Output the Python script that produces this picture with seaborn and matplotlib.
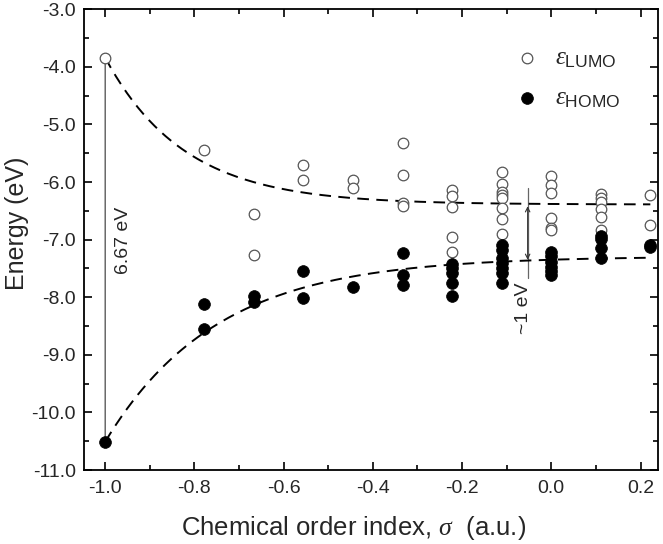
"""
Energia dos orbitais de fronteira vs. índice de ordem química
"""

import numpy as np
import pandas as pd
import matplotlib
matplotlib.use('Agg')
import matplotlib.pyplot as plt
from matplotlib.ticker import MultipleLocator, FormatStrFormatter
import seaborn as sns

# Dados
sigma = [-1.0, -0.778, -0.667, -0.556, -0.444, -0.333, -0.222, -0.111, 0.0, 0.111, 0.222]

lumo = [
    [-3.84],
    [-5.44],
    [-6.56, -7.27],
    [-5.71, -5.96],
    [-5.97, -6.10],
    [-5.33, -5.87, -6.37, -6.42],
    [-6.14, -6.24, -6.43, -6.96, -7.21],
    [-5.83, -6.03, -6.18, -6.23, -6.28, -6.45, -6.64, -6.90],
    [-5.90, -6.05, -6.19, -6.63, -6.79, -6.83],
    [-6.20, -6.27, -6.34, -6.47, -6.60, -6.84],
    [-6.23, -6.74],
]

homo = [
    [-10.51],
    [-8.11, -8.55],
    [-7.97, -8.09],
    [-7.55, -8.02],
    [-7.83],
    [-7.24, -7.61, -7.79],
    [-7.42, -7.50, -7.58, -7.75, -7.98],
    [-7.10, -7.18, -7.32, -7.41, -7.50, -7.58, -7.76],
    [-7.22, -7.29, -7.38, -7.47, -7.55, -7.62],
    [-6.94, -6.99, -7.14, -7.32],
    [-7.09, -7.13],
]

# parâmetros das curvas de ajuste (exponencial): y = a + b*exp(-(x+1)/t)
fit_lumo = (-6.39, 2.55, 0.177)
fit_homo = (-7.29, -3.22, 0.25)

gap_total = '6.67 eV'
gap_final = '~1 eV'


def to_df(valores):
    linhas = [(s, e) for s, lst in zip(sigma, valores) for e in lst]
    return pd.DataFrame(linhas, columns=['sigma', 'energia'])


df_lumo = to_df(lumo)
df_homo = to_df(homo)

sns.set_theme(style='ticks')
plt.rcParams['font.family'] = ['Liberation Sans', 'DejaVu Sans']
plt.rcParams['mathtext.fontset'] = 'custom'
plt.rcParams['mathtext.rm'] = 'Liberation Sans'
plt.rcParams['mathtext.it'] = 'Liberation Serif:italic'

fig = plt.figure(figsize=(6.63, 5.44), dpi=100)
ax = fig.add_axes([0.127, 0.136, 0.866, 0.847])

# curvas tracejadas
xs = np.linspace(-1.0, 0.222, 200)
for a, b, t in (fit_lumo, fit_homo):
    curva = pd.DataFrame({'x': xs, 'y': a + b * np.exp(-(xs + 1.0) / t)})
    sns.lineplot(data=curva, x='x', y='y', ax=ax, color='black', lw=1.4,
                 linestyle=(0, (6, 3.8)), zorder=2)

sns.scatterplot(data=df_lumo, x='sigma', y='energia', ax=ax, marker='o',
                s=58, facecolor='white', edgecolor='#555555', linewidth=0.9,
                zorder=3, label=r'$\varepsilon_{\rm LUMO}$')
sns.scatterplot(data=df_homo, x='sigma', y='energia', ax=ax, marker='o',
                s=72, color='black', edgecolor='black', linewidth=0.5,
                zorder=4, label=r'$\varepsilon_{\rm HOMO}$')

# seta do gap em sigma = -1
ax.annotate('', xy=(sigma[0], lumo[0][0] + 0.03), xytext=(sigma[0], homo[0][0] - 0.03),
            arrowprops=dict(arrowstyle='<->', color='#333333', lw=0.8,
                            shrinkA=0, shrinkB=0, mutation_scale=8), zorder=1)
ax.text(-0.958, -7.02, gap_total, rotation=90, ha='center', va='center', fontsize=14)

# seta do gap ~1 eV
ax.plot([-0.053, -0.053], [-6.10, -7.67], color='#666666', lw=0.9, zorder=1)
ax.annotate('', xy=(-0.053, -6.42), xytext=(-0.053, -7.35),
            arrowprops=dict(arrowstyle='<->', color='#333333', lw=0.8,
                            shrinkA=0, shrinkB=0, mutation_scale=8), zorder=1)
ax.text(-0.062, -8.2, gap_final, rotation=90, ha='center', va='center', fontsize=14)

ax.set_xlim(-1.047, 0.24)
ax.set_ylim(-11.0, -3.0)
ax.xaxis.set_major_locator(MultipleLocator(0.2))
ax.xaxis.set_minor_locator(MultipleLocator(0.1))
ax.yaxis.set_major_locator(MultipleLocator(1.0))
ax.yaxis.set_minor_locator(MultipleLocator(0.5))
ax.xaxis.set_major_formatter(FormatStrFormatter('%.1f'))
ax.yaxis.set_major_formatter(FormatStrFormatter('%.1f'))
ax.tick_params(which='both', direction='in', top=True, right=True, width=1.2,
               labelsize=14, color='black')
ax.tick_params(axis='x', pad=7)
ax.tick_params(axis='y', pad=6)
ax.tick_params(which='major', length=6)
ax.tick_params(which='minor', length=3.5)
for sp in ax.spines.values():
    sp.set_linewidth(1.3)
    sp.set_color('black')

ax.set_xlabel(r'Chemical order index, $\sigma$  (a.u.)', fontsize=18.5, labelpad=9)
ax.set_ylabel('Energy (eV)', fontsize=18, labelpad=4)
ax.xaxis.set_label_coords(0.47, -0.095)
ax.yaxis.set_label_coords(-0.097, 0.535)

leg = ax.legend(loc='upper right', bbox_to_anchor=(0.973, 0.97), frameon=False,
                fontsize=18, handletextpad=0.1, labelspacing=0.6, markerscale=1.0)

plt.savefig('out.png', dpi=100)
